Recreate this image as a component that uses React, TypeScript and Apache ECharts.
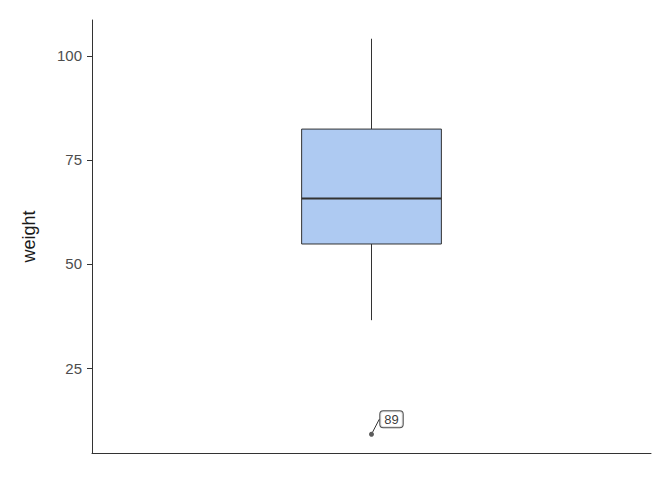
import React, { useEffect, useRef } from "react";
import * as echarts from "echarts";

const categories = ["weight"];
const boxStats = [[0, 36.5, 54.8, 65.7, 82.4, 104.1]]; // [cat, lower whisker, Q1, median, Q3, upper whisker]
const outliers = [[0, 9.1]];
const outlierLabels = ["89"];
const yTicks = [25, 50, 75, 100];
const yMin = 4.6;
const yMax = 108.6;

export default function App() {
  const ref = useRef<HTMLDivElement>(null);
  useEffect(() => {
    if (!ref.current) return;
    const chart = echarts.init(ref.current, null, { renderer: "svg" });
    const font = "Liberation Sans, Arial, sans-serif";
    chart.setOption({
      animation: false,
      backgroundColor: "#ffffff",
      grid: { left: 92, right: 21, top: 20, bottom: 27, containLabel: false },
      xAxis: {
        type: "category",
        data: categories,
        axisLine: { show: true, lineStyle: { color: "#333333", width: 1 } },
        axisTick: { show: false },
        axisLabel: { show: false },
        splitLine: { show: false },
      },
      yAxis: {
        type: "value",
        min: yMin,
        max: yMax,
        name: "weight",
        nameLocation: "middle",
        nameGap: 54,
        nameTextStyle: { fontFamily: font, fontSize: 18, color: "#1a1a1a" },
        axisLine: { show: true, lineStyle: { color: "#333333", width: 1 } },
        axisTick: { show: true, length: 5, customValues: yTicks, lineStyle: { color: "#333333" } },
        axisLabel: {
          customValues: yTicks,
          fontFamily: font,
          fontSize: 15,
          color: "#4d4d4d",
          margin: 10,
        },
        splitLine: { show: false },
      },
      series: [
        {
          type: "custom",
          data: boxStats,
          encode: { x: 0, y: [1, 2, 3, 4, 5] },
          renderItem: (params: any, api: any) => {
            const c = api.value(0);
            const lo = api.coord([c, api.value(1)]);
            const q1 = api.coord([c, api.value(2)]);
            const med = api.coord([c, api.value(3)]);
            const q3 = api.coord([c, api.value(4)]);
            const hi = api.coord([c, api.value(5)]);
            const bw = api.size([1, 0])[0] * 0.25;
            const x = lo[0];
            const stroke = "#333333";
            return {
              type: "group",
              children: [
                { type: "line", shape: { x1: x, y1: hi[1], x2: x, y2: q3[1] }, style: { stroke, lineWidth: 1 } },
                { type: "line", shape: { x1: x, y1: q1[1], x2: x, y2: lo[1] }, style: { stroke, lineWidth: 1 } },
                {
                  type: "rect",
                  shape: { x: x - bw / 2, y: q3[1], width: bw, height: q1[1] - q3[1] },
                  style: { fill: "#aecaf2", stroke, lineWidth: 1 },
                },
                { type: "line", shape: { x1: x - bw / 2, y1: med[1], x2: x + bw / 2, y2: med[1] }, style: { stroke, lineWidth: 2 } },
              ],
            };
          },
        },
        {
          type: "scatter",
          data: outliers.map((d, i) => ({ value: d, name: outlierLabels[i] })),
          symbol: "circle",
          symbolSize: 5,
          itemStyle: { color: "#333333" },
          label: {
            show: true,
            formatter: (p: any) => p.name,
            position: "inside",
            fontFamily: font,
            fontSize: 13,
            color: "#000000",
            backgroundColor: "#ffffff",
            borderColor: "#222222",
            borderWidth: 1,
            borderRadius: 3,
            padding: [2, 4, 1, 4],
          },
          labelLayout: { dx: 20, dy: -15 },
          labelLine: { show: true, lineStyle: { color: "#333333", width: 1 } },
        },
      ],
    });
    return () => chart.dispose();
  }, []);
  return <div ref={ref} style={{ width: 672, height: 480, position: "absolute", left: 0, top: 0 }} />;
}
